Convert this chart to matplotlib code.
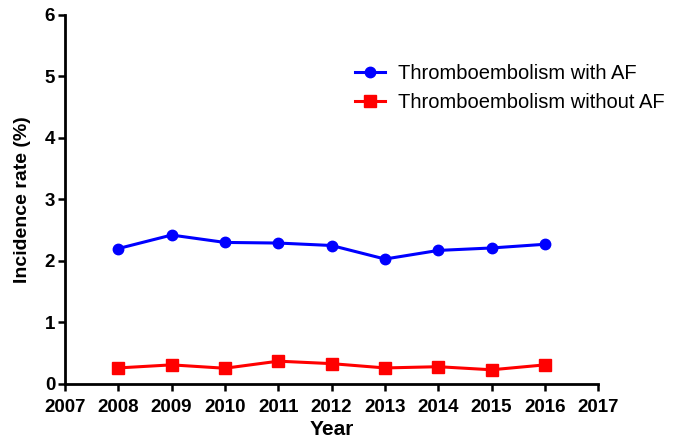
import matplotlib
matplotlib.use("Agg")
import matplotlib.pyplot as plt

plt.rcParams['font.family'] = ['Liberation Sans', 'DejaVu Sans']

years = [2008, 2009, 2010, 2011, 2012, 2013, 2014, 2015, 2016]
with_af = [2.20, 2.42, 2.30, 2.29, 2.25, 2.03, 2.17, 2.21, 2.27]
without_af = [0.26, 0.31, 0.255, 0.37, 0.33, 0.26, 0.28, 0.23, 0.31]
xticks = list(range(2007, 2018))
yticks = [0, 1, 2, 3, 4, 5, 6]

fig = plt.figure(figsize=(6.83, 4.48), dpi=100)
ax = fig.add_axes([0.095, 0.143, 0.781, 0.824])

ax.plot(years, with_af, color='#0000FF', marker='o', markersize=7.5,
        linewidth=2.2, label='Thromboembolism with AF')
ax.plot(years, without_af, color='#FF0000', marker='s', markersize=8,
        linewidth=2.2, label='Thromboembolism without AF')

ax.set_xlim(2007, 2017)
ax.set_ylim(0, 6)
ax.set_xticks(xticks)
ax.set_yticks(yticks)
ax.set_xticklabels([str(x) for x in xticks], fontweight='bold', fontsize=13.5)
ax.set_yticklabels([str(y) for y in yticks], fontweight='bold', fontsize=13.5)
ax.tick_params(direction='out', length=5, width=1.8)
ax.tick_params(axis='x', pad=6)
ax.tick_params(axis='y', pad=2)

for side in ('top', 'right'):
    ax.spines[side].set_visible(False)
for side in ('left', 'bottom'):
    ax.spines[side].set_linewidth(2)

ax.set_xlabel('Year', fontweight='bold', fontsize=15, labelpad=3)
ax.set_ylabel('Incidence rate (%)', fontweight='bold', fontsize=14, labelpad=10)

ax.legend(loc='upper left', bbox_to_anchor=(0.52, 0.857),
          bbox_transform=fig.transFigure, frameon=False, borderpad=0,
          borderaxespad=0, fontsize=14.5, handlelength=1.5,
          handletextpad=0.65, labelspacing=0.5)

fig.savefig('out.png', dpi=100)
